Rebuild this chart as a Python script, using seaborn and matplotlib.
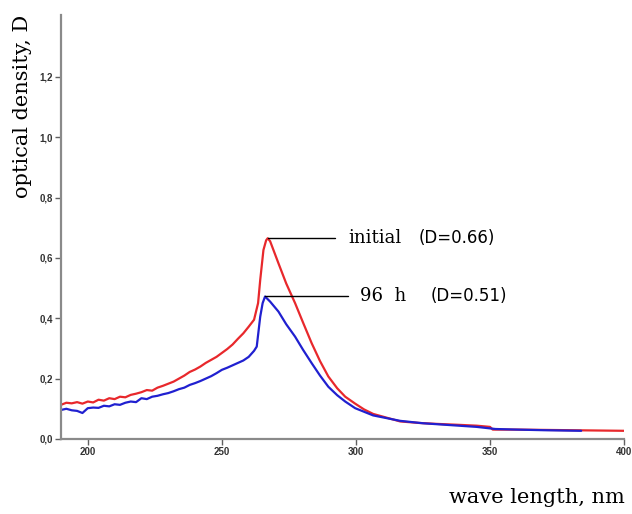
import matplotlib
matplotlib.use("Agg")
import matplotlib.pyplot as plt
import numpy as np
import pandas as pd
import seaborn as sns
from matplotlib.ticker import FuncFormatter

# wavelength (nm) and optical density
wl_initial = [190, 192, 194, 196, 198, 200, 202, 204, 206, 208, 210, 212, 214, 216, 218,
              220, 222, 224, 226, 228, 230, 232, 234, 236, 238, 240, 242, 244, 246, 248,
              250, 252, 254, 256, 258, 260, 262, 263.5, 264.3, 265.5, 266.5, 267.1, 268,
              271.1, 274, 277.3, 280.3, 283.5, 286.6, 289.7, 293, 296, 299.7, 303, 306.4,
              316.5, 323.6, 330, 337.8, 345, 350, 351, 360, 370, 380, 390, 400]
d_initial = [0.113, 0.120, 0.118, 0.122, 0.117, 0.124, 0.121, 0.130, 0.127, 0.135, 0.132,
             0.140, 0.138, 0.146, 0.150, 0.155, 0.162, 0.160, 0.170, 0.176, 0.183, 0.190,
             0.200, 0.210, 0.222, 0.230, 0.240, 0.252, 0.262, 0.272, 0.285, 0.298, 0.313,
             0.332, 0.350, 0.372, 0.395, 0.450, 0.527, 0.626, 0.658, 0.665, 0.655, 0.582,
             0.515, 0.450, 0.385, 0.317, 0.258, 0.207, 0.168, 0.140, 0.117, 0.098, 0.083,
             0.058, 0.053, 0.050, 0.047, 0.044, 0.040, 0.031, 0.031, 0.030, 0.029, 0.028,
             0.027]

wl_96h = [190, 192, 194, 196, 198, 200, 202, 204, 206, 208, 210, 212, 214, 216, 218, 220,
          222, 224, 226, 228, 230, 232, 234, 236, 238, 240, 242, 244, 246, 248, 250, 252,
          254, 256, 258, 260, 262, 263, 264.3, 265.2, 266.1, 268, 271.1, 274, 277.3,
          280.3, 283.5, 286.6, 289.7, 293, 296, 299.7, 306.4, 316.5, 325, 335, 345, 352,
          360, 370, 384]
d_96h = [0.096, 0.100, 0.095, 0.093, 0.086, 0.102, 0.104, 0.103, 0.110, 0.108, 0.115,
         0.113, 0.120, 0.124, 0.122, 0.135, 0.132, 0.140, 0.143, 0.148, 0.152, 0.158, 0.165,
         0.170, 0.179, 0.185, 0.192, 0.200, 0.208, 0.218, 0.229, 0.236, 0.244, 0.252, 0.260,
         0.272, 0.292, 0.306, 0.405, 0.450, 0.472, 0.455, 0.422, 0.380, 0.339, 0.295, 0.251,
         0.210, 0.173, 0.145, 0.124, 0.102, 0.078, 0.060, 0.052, 0.046, 0.040, 0.033, 0.031,
         0.029, 0.027]

x_ticks = [200, 250, 300, 350, 400]
y_ticks = [0.0, 0.2, 0.4, 0.6, 0.8, 1.0, 1.2]

df_init = pd.DataFrame({"wl": wl_initial, "D": d_initial})
df_96 = pd.DataFrame({"wl": wl_96h, "D": d_96h})

sns.set_style("white")
fig = plt.figure(figsize=(6.32, 5.14), dpi=100)
ax = fig.add_axes([0.0965, 0.146, 0.891, 0.825])

sns.lineplot(data=df_init, x="wl", y="D", color="#e8282c", lw=1.6, ax=ax)
sns.lineplot(data=df_96, x="wl", y="D", color="#2020d0", lw=1.6, ax=ax)

ax.set_xlim(190, 400)
ax.set_ylim(0, 1.405)
ax.set_xticks(x_ticks)
ax.set_yticks(y_ticks)
ax.xaxis.set_major_formatter(FuncFormatter(lambda v, p: f"{v:.0f}"))
ax.yaxis.set_major_formatter(FuncFormatter(lambda v, p: f"{v:.1f}".replace(".", ",")))
ax.tick_params(axis="both", direction="out", length=4, width=1, color="#606060",
               labelsize=7, labelcolor="#333333", pad=2, bottom=True, left=True)
for lab in ax.get_xticklabels() + ax.get_yticklabels():
    lab.set_family(["Liberation Sans Narrow", "Liberation Sans", "DejaVu Sans"])
    lab.set_fontweight("bold")
ax.set_xlabel("")
ax.set_ylabel("")
ax.spines["top"].set_visible(False)
ax.spines["right"].set_visible(False)
for s in ["left", "bottom"]:
    ax.spines[s].set_color("#8a8a8a")
    ax.spines[s].set_linewidth(1.6)

# peak call-outs
ax.plot([267.1, 292.2], [0.665, 0.665], color="black", lw=1)
ax.plot([266.1, 297.1], [0.472, 0.472], color="black", lw=1)
ax.text(297.1, 0.665, "initial", family="DejaVu Serif", fontsize=13, va="center", color="black")
ax.text(323.2, 0.665, "(D=0.66)", family="DejaVu Sans", fontsize=12, va="center", color="black")
ax.text(301.6, 0.472, "96  h", family="DejaVu Serif", fontsize=13, va="center", color="black")
ax.text(327.7, 0.472, "(D=0.51)", family="DejaVu Sans", fontsize=12, va="center", color="black")

fig.text(0.035, 0.971, "optical density, D", rotation=90, ha="center", va="top",
         family="DejaVu Serif", fontsize=15, color="black")
fig.text(0.989, 0.033, "wave length, nm", ha="right", va="center",
         family="DejaVu Serif", fontsize=15, color="black")

fig.savefig("out.png", dpi=100)
